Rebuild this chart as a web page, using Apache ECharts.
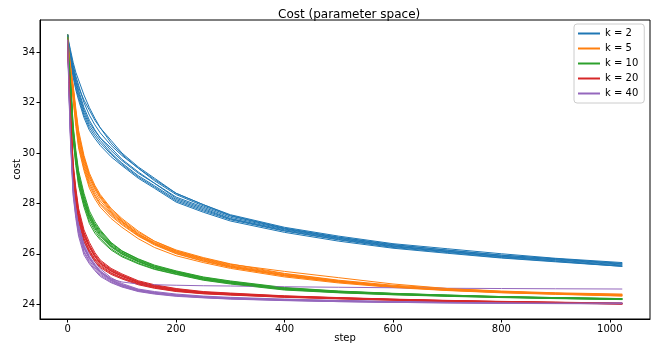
<!DOCTYPE html>
<html>
<head>
<meta charset="utf-8">
<script src="https://cdn.jsdelivr.net/npm/echarts@6/dist/echarts.min.js"></script>
<style>
  html, body { margin: 0; padding: 0; background: #fff; }
  #chart { width: 660px; height: 345px; }
</style>
</head>
<body>
<div id="chart"></div>
<script>
// sample steps shared by every run
const steps = [0, 2, 5, 10, 15, 20, 30, 40, 50, 60, 80, 100, 130, 160, 200, 250, 300, 400, 500, 600, 700, 800, 900, 1023];

const kNames = ["k = 2", "k = 5", "k = 10", "k = 20", "k = 40"];
const xTicks = [0, 200, 400, 600, 800, 1000];
const yTicks = [24, 26, 28, 30, 32, 34];

// k = 2 runs
const costK2 = [
  [34.7, 34.3, 33.9, 33.3, 32.8, 32.4, 31.7, 31.2, 30.88, 30.6, 30.1, 29.7, 29.2, 28.8, 28.2, 27.8, 27.4, 26.95, 26.6, 26.3, 26.1, 25.9, 25.75, 25.55],
  [34.6, 34.35, 34.0, 33.5, 33.05, 32.7, 32.0, 31.5, 31.12, 30.8, 30.3, 29.9, 29.4, 28.9, 28.35, 27.9, 27.5, 27.0, 26.65, 26.35, 26.15, 25.95, 25.8, 25.62],
  [34.7, 34.2, 33.8, 33.1, 32.6, 32.2, 31.5, 31.0, 30.68, 30.4, 29.95, 29.55, 29.05, 28.65, 28.1, 27.7, 27.35, 26.9, 26.55, 26.25, 26.05, 25.85, 25.7, 25.5],
  [34.5, 34.2, 33.9, 33.4, 32.95, 32.6, 32.1, 31.7, 31.3, 31.0, 30.4, 29.95, 29.4, 28.95, 28.4, 27.95, 27.55, 27.05, 26.7, 26.4, 26.2, 26.0, 25.82, 25.65],
  [34.7, 34.15, 33.7, 33.0, 32.5, 32.1, 31.4, 30.9, 30.58, 30.3, 29.85, 29.5, 29.0, 28.6, 28.05, 27.65, 27.3, 26.85, 26.5, 26.22, 26.02, 25.83, 25.68, 25.5],
  [34.6, 34.25, 33.9, 33.3, 32.85, 32.5, 31.8, 31.3, 30.92, 30.6, 30.2, 29.75, 29.25, 28.8, 28.25, 27.85, 27.45, 26.98, 26.62, 26.32, 26.1, 25.9, 25.77, 25.58],
  [34.7, 34.4, 34.1, 33.6, 33.2, 32.9, 32.3, 31.8, 31.38, 31.0, 30.5, 30.0, 29.45, 29.0, 28.4, 27.95, 27.52, 27.02, 26.66, 26.37, 26.14, 25.94, 25.8, 25.6],
  [34.6, 34.2, 33.8, 33.2, 32.7, 32.3, 31.6, 31.1, 30.78, 30.5, 30.0, 29.6, 29.1, 28.7, 28.15, 27.75, 27.38, 26.92, 26.57, 26.28, 26.08, 25.88, 25.72, 25.52]
];

// k = 5 runs
const costK5 = [
  [34.6, 34.05, 33.3, 32.4, 31.35, 30.5, 29.6, 28.9, 28.45, 28.1, 27.6, 27.25, 26.75, 26.4, 26.05, 25.75, 25.5, 25.15, 24.9, 24.7, 24.57, 24.48, 24.42, 24.35],
  [34.5, 34.05, 33.5, 32.7, 31.75, 30.9, 29.9, 29.2, 28.72, 28.35, 27.8, 27.4, 26.9, 26.5, 26.15, 25.85, 25.6, 25.22, 24.95, 24.75, 24.62, 24.52, 24.45, 24.4],
  [34.7, 34.0, 33.1, 32.1, 31.05, 30.2, 29.3, 28.6, 28.18, 27.85, 27.4, 27.05, 26.6, 26.25, 25.92, 25.65, 25.42, 25.08, 24.84, 24.66, 24.54, 24.45, 24.39, 24.32],
  [34.6, 34.1, 33.4, 32.5, 31.55, 30.7, 29.8, 29.1, 28.62, 28.25, 27.7, 27.3, 26.8, 26.45, 26.1, 25.8, 25.55, 25.2, 24.93, 24.72, 24.58, 24.49, 24.43, 24.37],
  [34.5, 33.95, 33.2, 32.2, 31.2, 30.3, 29.4, 28.7, 28.28, 27.95, 27.5, 27.15, 26.7, 26.35, 26.0, 25.7, 25.46, 25.12, 24.87, 24.68, 24.55, 24.46, 24.4, 24.33],
  [34.7, 34.15, 33.4, 32.6, 31.65, 30.8, 29.8, 29.1, 28.65, 28.3, 27.75, 27.35, 26.85, 26.5, 26.12, 25.82, 25.58, 25.3, 25.05, 24.8, 24.62, 24.5, 24.43, 24.38],
  [34.6, 34.0, 33.2, 32.3, 31.3, 30.4, 29.5, 28.8, 28.35, 28.0, 27.55, 27.2, 26.72, 26.38, 26.02, 25.72, 25.48, 25.13, 24.88, 24.69, 24.56, 24.47, 24.41, 24.34],
  [34.6, 34.1, 33.5, 32.6, 31.55, 30.6, 29.7, 29.0, 28.55, 28.2, 27.65, 27.28, 26.78, 26.42, 26.07, 25.78, 25.52, 25.17, 24.91, 24.71, 24.58, 24.49, 24.43, 24.36]
];

// k = 10 runs
const costK10 = [
  [34.6, 33.85, 32.8, 30.8, 29.8, 29.0, 28.1, 27.45, 27.05, 26.75, 26.3, 26.0, 25.7, 25.45, 25.25, 25.0, 24.85, 24.6, 24.48, 24.4, 24.33, 24.28, 24.24, 24.2],
  [34.5, 33.85, 33.0, 31.1, 30.1, 29.3, 28.4, 27.7, 27.28, 26.95, 26.45, 26.12, 25.8, 25.55, 25.32, 25.08, 24.92, 24.66, 24.52, 24.43, 24.36, 24.3, 24.26, 24.22],
  [34.7, 33.8, 32.6, 30.5, 29.5, 28.7, 27.85, 27.2, 26.82, 26.55, 26.15, 25.88, 25.6, 25.38, 25.18, 24.95, 24.8, 24.56, 24.45, 24.37, 24.31, 24.26, 24.22, 24.18],
  [34.6, 33.9, 32.9, 30.9, 29.9, 29.1, 28.2, 27.55, 27.15, 26.85, 26.38, 26.06, 25.75, 25.5, 25.28, 25.04, 24.88, 24.63, 24.5, 24.42, 24.35, 24.29, 24.25, 24.21],
  [34.5, 33.75, 32.7, 30.6, 29.6, 28.8, 27.95, 27.3, 26.92, 26.62, 26.2, 25.92, 25.63, 25.4, 25.2, 24.97, 24.82, 24.58, 24.46, 24.38, 24.32, 24.27, 24.23, 24.19],
  [34.7, 34.0, 33.0, 31.0, 30.0, 29.2, 28.3, 27.6, 27.2, 26.9, 26.42, 26.1, 25.78, 25.52, 25.3, 25.06, 24.9, 24.64, 24.51, 24.42, 24.36, 24.3, 24.26, 24.22],
  [34.6, 33.85, 32.8, 30.7, 29.7, 28.9, 28.0, 27.4, 27.0, 26.7, 26.27, 25.98, 25.68, 25.44, 25.23, 24.99, 24.84, 24.6, 24.47, 24.39, 24.33, 24.28, 24.23, 24.19],
  [34.6, 33.9, 32.9, 30.8, 29.85, 29.05, 28.15, 27.5, 27.1, 26.8, 26.33, 26.03, 25.72, 25.47, 25.26, 25.02, 24.86, 24.61, 24.49, 24.41, 24.34, 24.29, 24.25, 24.21]
];

// k = 20 runs
const costK20 = [
  [34.5, 33.1, 31.5, 29.3, 28.3, 27.5, 26.7, 26.25, 25.88, 25.6, 25.3, 25.1, 24.85, 24.7, 24.55, 24.45, 24.4, 24.3, 24.24, 24.18, 24.13, 24.09, 24.06, 24.02],
  [34.6, 33.3, 31.8, 29.6, 28.6, 27.8, 26.95, 26.45, 26.05, 25.75, 25.42, 25.2, 24.93, 24.77, 24.62, 24.5, 24.44, 24.33, 24.26, 24.2, 24.15, 24.11, 24.08, 24.04],
  [34.4, 32.9, 31.2, 29.0, 28.0, 27.25, 26.5, 26.05, 25.7, 25.45, 25.18, 25.0, 24.77, 24.63, 24.5, 24.41, 24.36, 24.27, 24.21, 24.16, 24.11, 24.07, 24.04, 24.0],
  [34.5, 33.15, 31.6, 29.4, 28.4, 27.6, 26.8, 26.3, 25.93, 25.65, 25.35, 25.14, 24.88, 24.72, 24.58, 24.47, 24.41, 24.31, 24.25, 24.19, 24.14, 24.1, 24.07, 24.03],
  [34.6, 33.1, 31.4, 29.2, 28.2, 27.4, 26.6, 26.15, 25.8, 25.55, 25.25, 25.05, 24.82, 24.67, 24.53, 24.43, 24.38, 24.29, 24.22, 24.17, 24.12, 24.08, 24.05, 24.01],
  [34.5, 33.2, 31.7, 29.5, 28.5, 27.7, 26.85, 26.35, 25.98, 25.7, 25.38, 25.16, 24.9, 24.74, 24.6, 24.48, 24.42, 24.32, 24.25, 24.19, 24.14, 24.1, 24.07, 24.03],
  [34.4, 32.95, 31.3, 29.1, 28.1, 27.35, 26.6, 26.1, 25.76, 25.5, 25.22, 25.03, 24.8, 24.65, 24.52, 24.42, 24.37, 24.28, 24.22, 24.16, 24.11, 24.08, 24.05, 24.01],
  [34.5, 33.1, 31.5, 29.35, 28.35, 27.55, 26.75, 26.28, 25.9, 25.62, 25.32, 25.11, 24.86, 24.7, 24.56, 24.46, 24.4, 24.3, 24.23, 24.18, 24.13, 24.09, 24.06, 24.02]
];

// k = 40 runs (one of them stalls near 24.6)
const costK40 = [
  [34.5, 32.8, 30.8, 28.6, 27.7, 27.0, 26.2, 25.8, 25.5, 25.25, 24.95, 24.75, 24.55, 24.45, 24.35, 24.28, 24.23, 24.17, 24.12, 24.09, 24.07, 24.05, 24.04, 24.03],
  [34.6, 33.05, 31.1, 28.9, 28.0, 27.3, 26.45, 26.0, 25.68, 25.4, 25.05, 24.82, 24.6, 24.5, 24.4, 24.32, 24.27, 24.2, 24.15, 24.11, 24.09, 24.07, 24.06, 24.05],
  [34.4, 32.5, 30.5, 28.3, 27.4, 26.7, 25.95, 25.6, 25.33, 25.1, 24.85, 24.68, 24.5, 24.4, 24.31, 24.25, 24.2, 24.14, 24.1, 24.07, 24.05, 24.03, 24.02, 24.01],
  [34.5, 32.9, 30.9, 28.7, 27.8, 27.1, 26.3, 25.85, 25.55, 25.3, 25.0, 24.88, 24.8, 24.77, 24.75, 24.73, 24.72, 24.69, 24.67, 24.65, 24.63, 24.62, 24.61, 24.6],
  [34.5, 32.7, 30.7, 28.5, 27.6, 26.9, 26.1, 25.72, 25.44, 25.2, 24.92, 24.72, 24.53, 24.43, 24.34, 24.27, 24.22, 24.16, 24.11, 24.08, 24.06, 24.04, 24.03, 24.02],
  [34.6, 33.0, 31.0, 28.8, 27.9, 27.2, 26.35, 25.9, 25.59, 25.32, 25.0, 24.78, 24.58, 24.47, 24.37, 24.3, 24.25, 24.18, 24.13, 24.1, 24.08, 24.06, 24.05, 24.04],
  [34.4, 32.6, 30.6, 28.4, 27.5, 26.8, 26.05, 25.65, 25.38, 25.15, 24.88, 24.7, 24.52, 24.42, 24.33, 24.26, 24.21, 24.15, 24.1, 24.07, 24.05, 24.04, 24.03, 24.02],
  [34.5, 32.8, 30.8, 28.6, 27.75, 27.05, 26.25, 25.82, 25.53, 25.27, 24.97, 24.76, 24.56, 24.46, 24.36, 24.29, 24.24, 24.17, 24.12, 24.09, 24.07, 24.05, 24.04, 24.03]
];

const runsByK = [costK2, costK5, costK10, costK20, costK40];
const colors = ["#1f77b4", "#ff7f0e", "#2ca02c", "#d62728", "#9467bd"];
const FONT = "DejaVu Sans";

// runs are drawn interleaved: run i of every k, then run i+1 ...
const series = [];
for (let r = 0; r < costK2.length; r++) {
  for (let k = 0; k < kNames.length; k++) {
    series.push({
      name: kNames[k],
      type: "line",
      symbol: "none",
      silent: true,
      color: colors[k],
      lineStyle: { width: 1, color: colors[k] },
      data: steps.map((s, i) => [s, runsByK[k][r][i]])
    });
  }
}

const chart = echarts.init(document.getElementById("chart"));
chart.setOption({
  animation: false,
  backgroundColor: "#fff",
  title: {
    text: "Cost (parameter space)",
    left: 273,
    top: 4,
    textStyle: { fontFamily: FONT, fontSize: 12, fontWeight: "normal", color: "#000" }
  },
  legend: {
    orient: "vertical",
    left: 574,
    top: 24,
    padding: [4, 6, 4, 4],
    itemGap: 4,
    itemWidth: 22,
    itemHeight: 2,
    icon: "rect",
    borderColor: "#ccc",
    borderWidth: 1,
    borderRadius: 3,
    backgroundColor: "rgba(255,255,255,0.8)",
    data: kNames,
    textStyle: { fontFamily: FONT, fontSize: 10, color: "#000", lineHeight: 11 }
  },
  grid: {
    left: 40,
    right: 10,
    top: 20,
    bottom: 26,
    show: true,
    borderColor: "#000",
    borderWidth: 1,
    containLabel: false,
    outerBoundsMode: "none"
  },
  xAxis: {
    type: "value",
    min: -51.15,
    max: 1074.15,
    name: "step",
    nameLocation: "middle",
    nameGap: 14,
    nameMoveOverlap: false,
    nameTextStyle: { fontFamily: FONT, fontSize: 10, color: "#000" },
    splitLine: { show: false },
    axisLine: { show: true, onZero: false, lineStyle: { color: "#000", width: 1 } },
    axisTick: { show: true, length: 3.5, customValues: xTicks, lineStyle: { color: "#000" } },
    axisLabel: { customValues: xTicks, formatter: (v) => String(v), fontFamily: FONT, fontSize: 10, color: "#000", margin: 5 }
  },
  yAxis: {
    type: "value",
    min: 23.41,
    max: 35.28,
    name: "cost",
    nameLocation: "middle",
    nameGap: 18,
    nameMoveOverlap: false,
    nameTextStyle: { fontFamily: FONT, fontSize: 10, color: "#000" },
    splitLine: { show: false },
    axisLine: { show: true, onZero: false, lineStyle: { color: "#000", width: 1 } },
    axisTick: { show: true, length: 3.5, customValues: yTicks, lineStyle: { color: "#000" } },
    axisLabel: { customValues: yTicks, formatter: (v) => String(v), fontFamily: FONT, fontSize: 10, color: "#000", margin: 5 }
  },
  series: series
});
</script>
</body>
</html>
